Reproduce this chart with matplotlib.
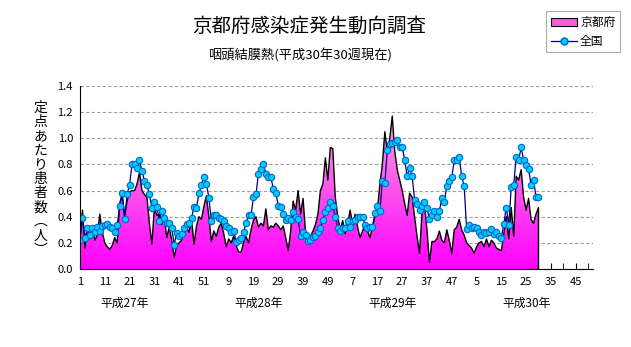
import numpy as np
import matplotlib
matplotlib.use("Agg")
import matplotlib.pyplot as plt
from matplotlib.colors import LinearSegmentedColormap
from matplotlib.patches import Patch
from matplotlib.lines import Line2D
import matplotlib.transforms as mtransforms

plt.rcParams['font.family'] = ['Noto Sans CJK JP', 'DejaVu Sans']

# weekly values per sentinel, H27 week 1 .. H30 week 30 (52 weeks per year)
kyoto = [0.24, 0.45, 0.16, 0.32, 0.24, 0.30, 0.22, 0.26, 0.42, 0.28,
         0.20, 0.17, 0.15, 0.18, 0.24, 0.20, 0.50, 0.57, 0.41, 0.52,
         0.59, 0.60, 0.60, 0.65, 0.74, 0.60, 0.57, 0.55, 0.35, 0.19,
         0.47, 0.41, 0.42, 0.34, 0.40, 0.24, 0.32, 0.22, 0.09, 0.18,
         0.20, 0.22, 0.28, 0.32, 0.28, 0.38, 0.19, 0.33, 0.40, 0.38,
         0.48, 0.56,
         0.40, 0.21, 0.29, 0.25, 0.32, 0.35, 0.27, 0.17, 0.23, 0.20,
         0.25, 0.18, 0.13, 0.13, 0.20, 0.25, 0.20, 0.30, 0.375, 0.40,
         0.32, 0.35, 0.33, 0.46, 0.30, 0.33, 0.32, 0.35, 0.33, 0.30,
         0.33, 0.24, 0.14, 0.29, 0.52, 0.45, 0.60, 0.42, 0.54, 0.28,
         0.19, 0.25, 0.29, 0.34, 0.42, 0.60, 0.65, 0.85, 0.68, 0.93,
         0.92, 0.55,
         0.40, 0.30, 0.37, 0.27, 0.34, 0.45, 0.34, 0.42, 0.32, 0.24,
         0.29, 0.34, 0.29, 0.24, 0.32, 0.40, 0.45, 0.65, 0.80, 1.05,
         0.90, 1.00, 1.17, 0.90, 0.76, 0.68, 0.60, 0.50, 0.41, 0.58,
         0.55, 0.40, 0.25, 0.12, 0.43, 0.50, 0.30, 0.05, 0.21, 0.21,
         0.23, 0.29, 0.22, 0.20, 0.30, 0.22, 0.12, 0.30, 0.32, 0.38,
         0.30, 0.26,
         0.20, 0.18, 0.16, 0.12, 0.17, 0.20, 0.21, 0.17, 0.23, 0.17,
         0.22, 0.20, 0.16, 0.15, 0.14, 0.27, 0.40, 0.23, 0.47, 0.25,
         0.71, 0.68, 0.76, 0.55, 0.45, 0.54, 0.38, 0.35, 0.42, 0.47]

zenkoku = [0.22, 0.39, 0.24, 0.31, 0.26, 0.31, 0.28, 0.32, 0.29, 0.33,
           0.34, 0.345, 0.32, 0.31, 0.28, 0.34, 0.48, 0.58, 0.38, 0.57,
           0.645, 0.80, 0.80, 0.77, 0.83, 0.75, 0.675, 0.64, 0.57, 0.47,
           0.51, 0.475, 0.37, 0.44, 0.39, 0.355, 0.35, 0.315, 0.185, 0.275,
           0.255, 0.265, 0.315, 0.345, 0.355, 0.39, 0.475, 0.47, 0.58, 0.645,
           0.70, 0.65,
           0.545, 0.37, 0.415, 0.415, 0.39, 0.38, 0.37, 0.33, 0.31, 0.285,
           0.29, 0.21, 0.22, 0.24, 0.28, 0.355, 0.41, 0.41, 0.55, 0.57,
           0.73, 0.765, 0.80, 0.73, 0.705, 0.70, 0.615, 0.58, 0.485, 0.475,
           0.42, 0.375, 0.39, 0.375, 0.435, 0.40, 0.38, 0.255, 0.285, 0.26,
           0.215, 0.22, 0.245, 0.25, 0.285, 0.315, 0.375, 0.435, 0.47, 0.515,
           0.485, 0.395,
           0.315, 0.29, 0.31, 0.315, 0.37, 0.325, 0.37, 0.375, 0.40, 0.395,
           0.395, 0.34, 0.31, 0.325, 0.325, 0.425, 0.48, 0.44, 0.67, 0.655,
           0.91, 0.955, 0.965, 0.975, 0.99, 0.935, 0.935, 0.835, 0.71, 0.775,
           0.71, 0.53, 0.50, 0.45, 0.48, 0.515, 0.47, 0.38, 0.41, 0.445,
           0.395, 0.445, 0.54, 0.515, 0.635, 0.675, 0.70, 0.83, 0.83, 0.857,
           0.71, 0.635,
           0.306, 0.334, 0.31, 0.318, 0.316, 0.286, 0.26, 0.286, 0.278, 0.286,
           0.306, 0.265, 0.286, 0.25, 0.24, 0.344, 0.47, 0.337, 0.625, 0.643,
           0.86, 0.834, 0.93, 0.834, 0.796, 0.765, 0.643, 0.68, 0.553, 0.553]

tick_labels = ['1', '11', '21', '31', '41', '51', '9', '19', '29', '39', '49',
               '7', '17', '27', '37', '47', '5', '15', '25', '35', '45']
year_labels = ['平成27年', '平成28年', '平成29年', '平成30年']
year_pos = [19, 73, 127, 181]

weeks = np.arange(1, len(kyoto) + 1)

fig = plt.figure(figsize=(6.31, 3.47), dpi=100)
ax = fig.add_axes([0.1268, 0.2248, 0.813, 0.5274])

# gradient filled area for Kyoto
poly = ax.fill_between(weeks, 0, kyoto, facecolor='none', edgecolor='none')
cmap = LinearSegmentedColormap.from_list('pk', ['#ff00ff', '#f9a6dc'])
grad = np.linspace(0, 1, 256).reshape(-1, 1)
im = ax.imshow(grad, extent=[1, 208, 0, 1.2], origin='lower', aspect='auto',
               cmap=cmap, zorder=1, interpolation='bilinear')
im.set_clip_path(poly.get_paths()[0], transform=ax.transData)
ax.plot(np.r_[weeks, weeks[-1]], np.r_[kyoto, 0], color='black', lw=1.0, zorder=2)

ax.plot(weeks, zenkoku, color='#000080', lw=0.9, marker='o', markersize=4.6,
        markerfacecolor='#00ccff', markeredgecolor='#0066cc', markeredgewidth=0.8,
        zorder=3)

ax.set_xlim(1, 208)
ax.set_ylim(0, 1.4)
ax.set_yticks(np.arange(0, 1.41, 0.2))
ax.set_yticklabels(['%.1f' % v for v in np.arange(0, 1.41, 0.2)], fontsize=8)
ax.set_xticks(np.arange(1, 208, 10))
ax.set_xticklabels(tick_labels, fontsize=8)
ax.set_xticks(np.arange(6, 208, 10), minor=True)
ax.tick_params(axis='x', which='both', direction='in', length=4, pad=6)
ax.tick_params(axis='y', length=0, pad=5)
ax.grid(axis='y', color='#a0a0a0', linestyle=(0, (3, 2)), lw=0.8)
ax.set_axisbelow(True)
for s in ['top', 'right']:
    ax.spines[s].set_visible(False)
ax.spines['left'].set_zorder(4)
ax.spines['bottom'].set_zorder(4)

trans = mtransforms.blended_transform_factory(ax.transData, ax.transAxes)
for p, t in zip(year_pos, year_labels):
    ax.text(p, -0.19, t, transform=trans, ha='center', va='center', fontsize=8.5)

fig.text(0.064, 0.485, '\n'.join('定点あたり患者数︵人︶'), ha='center', va='center',
         fontsize=10, linespacing=1.02)
fig.text(0.49, 0.925, '京都府感染症発生動向調査', ha='center', va='center', fontsize=14)
fig.text(0.475, 0.84, '咽頭結膜熱(平成30年30週現在)', ha='center', va='center', fontsize=9.5)

handles = [Patch(facecolor='#f560d8', edgecolor='black', lw=0.8),
           Line2D([], [], color='#000080', lw=0.9, marker='o', markersize=5,
                  markerfacecolor='#00ccff', markeredgecolor='#0066cc')]
leg = fig.legend(handles, ['京都府', '全国'], loc='upper right',
                 bbox_to_anchor=(0.992, 0.985), fontsize=8.5, frameon=True,
                 fancybox=False, edgecolor='#999999', handlelength=2.2,
                 handletextpad=0.3, borderpad=0.4, labelspacing=0.5)
leg.get_frame().set_linewidth(0.8)

fig.savefig('out.png', dpi=100)
